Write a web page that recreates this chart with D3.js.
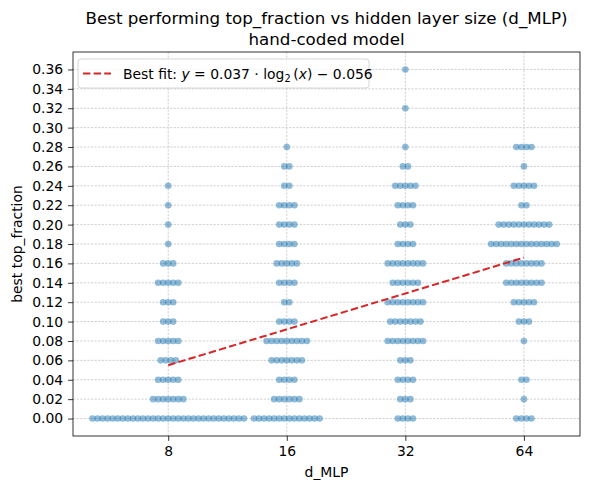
<!DOCTYPE html>
<html>
<head>
	<meta charset="utf-8">
	<title></title>
	<script src="https://d3js.org/d3.v7.min.js"></script>
	<style>
		body{ margin:0; background:#fff; }
		text{ font-family:"DejaVu Sans", sans-serif; fill:#000; }
		.tick text{ font-size:13.9px; }
		.grid line{ stroke:#b0b0b0; stroke-width:0.6; stroke-dasharray:2.2,1.4; }
	</style>
</head>
<body>
	<svg width='590' height='489'></svg>
</body>
<script>
	// d_MLP categories and the top_fraction levels the runs landed on
	var dMLP = [8, 16, 32, 64];
	var levels = [0.00, 0.02, 0.04, 0.06, 0.08, 0.10, 0.12, 0.14, 0.16, 0.18,
				  0.20, 0.22, 0.24, 0.26, 0.28, 0.30, 0.32, 0.34, 0.36];
	// number of runs at each level (same order as levels)
	var counts8  = [31, 7, 5, 4, 5, 3, 3, 5, 3, 1, 1, 1, 1, 0, 0, 0, 0, 0, 0];
	var counts16 = [14, 6, 4, 7, 9, 4, 2, 4, 5, 4, 4, 4, 2, 2, 1, 0, 0, 0, 0];
	var counts32 = [4, 3, 4, 3, 8, 7, 8, 6, 8, 4, 3, 4, 5, 2, 1, 0, 1, 0, 1];
	var counts64 = [4, 1, 2, 0, 1, 3, 5, 8, 8, 14, 11, 2, 5, 1, 4, 0, 0, 0, 0];
	var allCounts = [counts8, counts16, counts32, counts64];
	var yTicks = d3.range(0, 0.3601, 0.02);
	// fit: y = a*log2(x) + b
	var fitA = 0.037, fitB = -0.056;

	var svg = d3.select('svg');
	var pL = 73, pR = 580, pT = 52, pB = 436;

	var x = d3.scaleLinear().domain([2.197, 6.473]).range([pL, pR]);
	var y = d3.scaleLinear().domain([-0.018, 0.378]).range([pB, pT]);
	var step = 5.05;

	// grid
	var grid = svg.append('g').attr('class', 'grid');
	grid.selectAll('.gy').data(yTicks).enter().append('line')
		.attr('x1', pL).attr('x2', pR)
		.attr('y1', function(d){ return y(d); }).attr('y2', function(d){ return y(d); });
	grid.selectAll('.gx').data(dMLP).enter().append('line')
		.attr('y1', pT).attr('y2', pB)
		.attr('x1', function(d){ return x(Math.log2(d)); }).attr('x2', function(d){ return x(Math.log2(d)); });

	// swarm points
	var pts = [];
	dMLP.forEach(function(d, ci){
		allCounts[ci].forEach(function(n, li){
			for (var i = 0; i < n; i++) {
				pts.push({d: d, v: levels[li], off: (i - (n - 1) / 2) * step});
			}
		});
	});
	svg.append('g').selectAll('circle').data(pts).enter().append('circle')
		.attr('cx', function(p){ return x(Math.log2(p.d)) + p.off; })
		.attr('cy', function(p){ return y(p.v); })
		.attr('r', 3.3)
		.style('fill', '#1f77b4')
		.style('fill-opacity', 0.5);

	// fit line
	var fitX = [8, 64];
	svg.append('path')
		.datum(fitX)
		.attr('d', d3.line()
			.x(function(d){ return x(Math.log2(d)); })
			.y(function(d){ return y(fitA * Math.log2(d) + fitB); }))
		.style('fill', 'none')
		.style('stroke', '#d62728')
		.style('stroke-width', 2)
		.style('stroke-dasharray', '7.4,3.2');

	// frame
	svg.append('rect')
		.attr('x', pL).attr('y', pT)
		.attr('width', pR - pL).attr('height', pB - pT)
		.style('fill', 'none').style('stroke', '#000').style('stroke-width', 0.8);

	// axes
	var yAxis = d3.axisLeft(y).tickValues(yTicks).tickFormat(d3.format('.2f')).tickSize(4.9).tickPadding(4.9);
	var gy = svg.append('g').attr('transform', 'translate(' + pL + ',0)').call(yAxis);
	var xAxis = d3.axisBottom(x).tickValues(dMLP.map(function(d){ return Math.log2(d); }))
		.tickFormat(function(v){ return String(Math.round(Math.pow(2, v))); }).tickSize(4.9).tickPadding(4.9);
	var gx = svg.append('g').attr('transform', 'translate(0,' + pB + ')').call(xAxis);
	[gx, gy].forEach(function(g){
		g.select('.domain').remove();
		g.selectAll('.tick line').style('stroke', '#000').style('stroke-width', 0.8);
		g.selectAll('.tick text').style('font-family', '"DejaVu Sans", sans-serif').style('fill', '#000');
	});

	// labels
	var cx = (pL + pR) / 2;
	svg.append('text').attr('x', cx).attr('y', 24).attr('text-anchor', 'middle').style('font-size', '16.7px')
		.text('Best performing top_fraction vs hidden layer size (d_MLP)');
	svg.append('text').attr('x', cx).attr('y', 45).attr('text-anchor', 'middle').style('font-size', '16.7px')
		.text('hand-coded model');
	svg.append('text').attr('x', cx).attr('y', 477).attr('text-anchor', 'middle').style('font-size', '13.9px')
		.text('d_MLP');
	svg.append('text').attr('transform', 'translate(22,' + ((pT + pB) / 2) + ') rotate(-90)')
		.attr('text-anchor', 'middle').style('font-size', '13.9px')
		.text('best top_fraction');

	// legend
	var lg = svg.append('g');
	lg.append('rect').attr('x', 78).attr('y', 59).attr('width', 291).attr('height', 29).attr('rx', 3)
		.style('fill', '#fff').style('fill-opacity', 0.8).style('stroke', '#cccccc').style('stroke-width', 0.8);
	lg.append('line').attr('x1', 83).attr('x2', 111).attr('y1', 73.5).attr('y2', 73.5)
		.style('stroke', '#d62728').style('stroke-width', 2).style('stroke-dasharray', '7.4,3.2');
	var lt = lg.append('text').attr('x', 123).attr('y', 78.5).style('font-size', '13.9px');
	lt.append('tspan').text('Best fit: ');
	lt.append('tspan').style('font-style', 'italic').text('y');
	lt.append('tspan').text(' = ' + fitA + ' \u00b7 log');
	lt.append('tspan').attr('dy', 3).style('font-size', '9.7px').text('2');
	lt.append('tspan').attr('dy', -3).text('\u2009(');
	lt.append('tspan').style('font-style', 'italic').text('x');
	lt.append('tspan').text(') \u2212 ' + Math.abs(fitB));
</script>
</html>
